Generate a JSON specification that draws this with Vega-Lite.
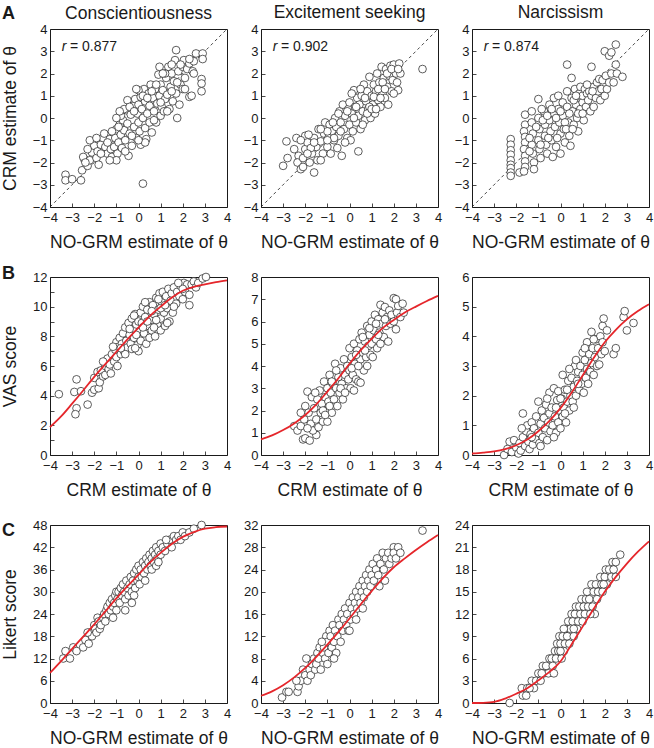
{
"$schema":"https://vega.github.io/schema/vega-lite/v6.json",
"padding":{"left":0,"top":3,"right":0,"bottom":0},
"background":"white",
"columns":3,
"spacing":{"row":70,"column":34},
"bounds":"flush",
"config":{
"font":"Liberation Sans",
"view":{"stroke":"#1a1a1a","strokeWidth":1},
"axis":{"grid":false,"domain":false,"ticks":true,"tickSize":-4,"tickColor":"#1a1a1a","tickWidth":0.8,"labelFont":"Liberation Sans","labelFontSize":13,"labelColor":"#1a1a1a","labelFlush":false,"labelOverlap":false,"titleFont":"Liberation Sans","titleFontSize":17.5,"titleFontWeight":"normal","titleColor":"#1a1a1a"},
"axisX":{"labelPadding":8.5,"titlePadding":9},
"axisY":{"labelPadding":7,"titlePadding":13},
"title":{"font":"Liberation Sans","fontSize":17.5,"fontWeight":"normal","color":"#1a1a1a","frame":"group","baseline":"alphabetic","offset":2}
},
"datasets":{
"a1":[{"x":-3.3,"y":-2.55},{"x":-3.3,"y":-2.8},{"x":-3.0,"y":-2.75},{"x":-2.6,"y":-2.8},{"x":-2.55,"y":-2.35},{"x":-2.45,"y":-1.85},{"x":-2.5,"y":-1.75},{"x":-2.3,"y":-2.15},{"x":-2.2,"y":-1.9},{"x":-2.4,"y":-2.0},{"x":-2.1,"y":-1.55},{"x":-2.0,"y":-1.25},{"x":-2.2,"y":-1.0},{"x":-2.3,"y":-1.4},{"x":-1.9,"y":-1.8},{"x":-1.8,"y":-2.1},{"x":-1.85,"y":-1.5},{"x":-1.7,"y":-1.2},{"x":-1.6,"y":-0.9},{"x":-1.5,"y":-1.3},{"x":-1.4,"y":-1.6},{"x":-1.55,"y":-0.7},{"x":-1.3,"y":-0.95},{"x":-1.25,"y":-1.4},{"x":-1.2,"y":-1.75},{"x":-1.1,"y":-1.3},{"x":-1.0,"y":-0.5},{"x":-1.05,"y":-0.9},{"x":-0.95,"y":-1.6},{"x":-0.9,"y":-1.1},{"x":-0.85,"y":-0.3},{"x":-0.8,"y":-0.75},{"x":-0.75,"y":-1.35},{"x":-0.7,"y":-0.1},{"x":-0.65,"y":-0.55},{"x":-0.6,"y":-1.0},{"x":-0.55,"y":0.35},{"x":-0.5,"y":0.8},{"x":-0.5,"y":-0.25},{"x":-0.45,"y":-1.7},{"x":-0.4,"y":-0.7},{"x":-0.35,"y":0.15},{"x":-0.3,"y":-1.25},{"x":-0.25,"y":0.55},{"x":-0.2,"y":-0.4},{"x":-0.15,"y":0.85},{"x":-0.1,"y":-0.9},{"x":-0.05,"y":0.2},{"x":0.0,"y":-0.2},{"x":0.0,"y":0.6},{"x":0.05,"y":-0.6},{"x":0.1,"y":0.95},{"x":0.1,"y":-1.2},{"x":0.15,"y":0.4},{"x":0.2,"y":-2.95},{"x":0.2,"y":0.0},{"x":0.25,"y":1.3},{"x":0.3,"y":-0.45},{"x":0.3,"y":0.75},{"x":0.35,"y":-0.95},{"x":0.4,"y":0.2},{"x":0.45,"y":1.1},{"x":0.5,"y":-0.2},{"x":0.5,"y":0.55},{"x":0.55,"y":1.5},{"x":0.6,"y":-0.65},{"x":0.65,"y":0.9},{"x":0.7,"y":0.3},{"x":0.75,"y":1.3},{"x":0.8,"y":-0.2},{"x":0.85,"y":0.65},{"x":0.9,"y":1.95},{"x":0.95,"y":1.0},{"x":1.0,"y":0.1},{"x":1.0,"y":1.5},{"x":1.05,"y":0.5},{"x":1.1,"y":1.25},{"x":1.15,"y":0.3},{"x":1.2,"y":0.85},{"x":1.25,"y":1.8},{"x":1.3,"y":1.05},{"x":1.35,"y":2.3},{"x":1.4,"y":0.4},{"x":1.45,"y":1.4},{"x":1.5,"y":2.0},{"x":1.55,"y":0.75},{"x":1.6,"y":1.65},{"x":1.65,"y":2.6},{"x":1.7,"y":3.05},{"x":1.7,"y":1.1},{"x":1.75,"y":0.0},{"x":1.8,"y":2.1},{"x":1.85,"y":0.6},{"x":1.9,"y":1.5},{"x":2.0,"y":2.3},{"x":2.0,"y":1.3},{"x":2.05,"y":2.6},{"x":2.1,"y":1.8},{"x":2.2,"y":2.2},{"x":2.3,"y":2.45},{"x":2.3,"y":0.95},{"x":2.4,"y":1.0},{"x":2.45,"y":2.1},{"x":2.5,"y":2.0},{"x":2.6,"y":2.9},{"x":2.9,"y":2.9},{"x":2.9,"y":2.65},{"x":2.85,"y":1.75},{"x":2.85,"y":1.55},{"x":2.85,"y":1.2},{"x":2.5,"y":2.55},{"x":2.3,"y":2.65},{"x":1.9,"y":2.4},{"x":1.5,"y":2.4},{"x":1.2,"y":2.0},{"x":-1.9,"y":-0.9},{"x":-1.7,"y":-1.6},{"x":-1.4,"y":-1.1},{"x":-1.2,"y":-0.6},{"x":-0.9,"y":-0.4},{"x":-0.8,"y":0.1},{"x":-0.65,"y":0.4},{"x":-0.4,"y":0.5},{"x":-0.2,"y":0.3},{"x":0.0,"y":1.25},{"x":0.2,"y":1.0},{"x":0.4,"y":0.9},{"x":0.6,"y":1.2},{"x":0.8,"y":1.5},{"x":0.3,"y":-1.1},{"x":0.0,"y":-1.0},{"x":-0.3,"y":-0.8},{"x":-0.6,"y":-1.5},{"x":-1.0,"y":-1.9},{"x":-1.3,"y":-1.9},{"x":0.7,"y":-0.1},{"x":1.0,"y":0.7},{"x":1.3,"y":0.3},{"x":1.5,"y":1.2},{"x":1.75,"y":1.6},{"x":2.1,"y":1.3},{"x":-1.0,"y":0.0},{"x":-0.85,"y":0.3},{"x":-0.1,"y":1.3},{"x":0.95,"y":2.3},{"x":1.1,"y":2.0}],
"a2":[{"x":-3.0,"y":-2.15},{"x":-2.8,"y":-1.8},{"x":-2.85,"y":-1.05},{"x":-2.4,"y":-0.9},{"x":-2.3,"y":-1.7},{"x":-2.35,"y":-2.0},{"x":-2.2,"y":-2.3},{"x":-2.1,"y":-1.8},{"x":-2.0,"y":-1.4},{"x":-2.0,"y":-0.8},{"x":-1.9,"y":-1.1},{"x":-1.8,"y":-2.0},{"x":-1.7,"y":-1.6},{"x":-1.6,"y":-2.45},{"x":-1.6,"y":-0.9},{"x":-1.5,"y":-1.3},{"x":-1.45,"y":-1.9},{"x":-1.4,"y":-0.5},{"x":-1.3,"y":-1.05},{"x":-1.2,"y":-1.6},{"x":-1.15,"y":-0.7},{"x":-1.1,"y":-0.2},{"x":-1.0,"y":-1.3},{"x":-0.95,"y":-0.9},{"x":-0.9,"y":-0.3},{"x":-0.85,"y":-1.6},{"x":-0.8,"y":-0.6},{"x":-0.7,"y":-1.0},{"x":-0.65,"y":0.0},{"x":-0.6,"y":-0.4},{"x":-0.55,"y":-1.35},{"x":-0.5,"y":-0.8},{"x":-0.45,"y":0.3},{"x":-0.4,"y":-0.2},{"x":-0.35,"y":-1.7},{"x":-0.3,"y":0.6},{"x":-0.25,"y":-0.5},{"x":-0.2,"y":0.1},{"x":-0.1,"y":-0.9},{"x":-0.05,"y":0.4},{"x":0.0,"y":-0.3},{"x":0.0,"y":0.7},{"x":0.05,"y":-1.0},{"x":0.1,"y":0.2},{"x":0.15,"y":-0.6},{"x":0.2,"y":1.25},{"x":0.25,"y":0.5},{"x":0.3,"y":-0.2},{"x":0.35,"y":0.9},{"x":0.4,"y":-1.5},{"x":0.4,"y":0.1},{"x":0.45,"y":0.6},{"x":0.5,"y":-0.5},{"x":0.55,"y":1.0},{"x":0.6,"y":0.3},{"x":0.65,"y":1.5},{"x":0.7,"y":-0.1},{"x":0.75,"y":0.75},{"x":0.8,"y":1.2},{"x":0.85,"y":0.4},{"x":0.9,"y":1.85},{"x":0.95,"y":0.0},{"x":1.0,"y":1.0},{"x":1.05,"y":0.6},{"x":1.1,"y":1.5},{"x":1.15,"y":0.2},{"x":1.2,"y":1.2},{"x":1.25,"y":2.0},{"x":1.3,"y":0.8},{"x":1.35,"y":1.6},{"x":1.4,"y":0.5},{"x":1.45,"y":2.3},{"x":1.5,"y":1.1},{"x":1.55,"y":1.8},{"x":1.6,"y":0.9},{"x":1.65,"y":2.2},{"x":1.7,"y":1.4},{"x":1.75,"y":0.6},{"x":1.8,"y":1.9},{"x":1.85,"y":2.35},{"x":1.9,"y":1.2},{"x":1.95,"y":1.7},{"x":2.0,"y":2.4},{"x":2.1,"y":2.0},{"x":2.15,"y":1.6},{"x":2.2,"y":1.25},{"x":2.25,"y":2.45},{"x":2.3,"y":2.0},{"x":3.3,"y":2.2},{"x":-2.5,"y":-1.4},{"x":-2.2,"y":-1.0},{"x":-1.85,"y":-0.75},{"x":-1.75,"y":-1.35},{"x":-1.3,"y":-1.9},{"x":-1.0,"y":-0.6},{"x":-0.75,"y":-0.2},{"x":-0.5,"y":0.2},{"x":-0.2,"y":-1.1},{"x":0.1,"y":1.1},{"x":0.3,"y":0.5},{"x":0.5,"y":1.3},{"x":0.7,"y":0.9},{"x":0.9,"y":0.5},{"x":1.1,"y":0.95},{"x":1.3,"y":1.3},{"x":1.5,"y":1.6},{"x":1.7,"y":2.0},{"x":1.9,"y":2.2},{"x":0.2,"y":0.0},{"x":-0.1,"y":0.3},{"x":-0.4,"y":-0.6},{"x":-0.7,"y":-0.9},{"x":-1.0,"y":-1.0},{"x":-1.3,"y":-0.5},{"x":-1.6,"y":-1.1},{"x":-1.9,"y":-1.6},{"x":-2.1,"y":-2.2},{"x":0.6,"y":-0.3},{"x":0.8,"y":0.2},{"x":1.0,"y":0.4},{"x":1.2,"y":0.4},{"x":1.4,"y":0.9},{"x":1.6,"y":1.3},{"x":2.0,"y":1.1},{"x":2.2,"y":2.2}],
"a3":[{"x":-2.25,"y":-0.95},{"x":-2.25,"y":-1.2},{"x":-2.25,"y":-1.45},{"x":-2.25,"y":-1.65},{"x":-2.25,"y":-1.9},{"x":-2.25,"y":-2.1},{"x":-2.25,"y":-2.25},{"x":-2.25,"y":-2.45},{"x":-2.25,"y":-2.6},{"x":-1.85,"y":-2.45},{"x":-1.6,"y":0.15},{"x":-1.6,"y":-0.3},{"x":-1.65,"y":-0.6},{"x":-1.6,"y":-0.85},{"x":-1.6,"y":-1.1},{"x":-1.65,"y":-1.4},{"x":-1.6,"y":-1.7},{"x":-1.6,"y":-1.95},{"x":-1.6,"y":-2.2},{"x":-1.65,"y":-2.4},{"x":-1.3,"y":0.3},{"x":-1.3,"y":-0.2},{"x":-1.25,"y":-0.7},{"x":-1.3,"y":-1.2},{"x":-1.25,"y":-1.6},{"x":-1.2,"y":-2.0},{"x":-1.2,"y":-2.3},{"x":-1.0,"y":0.85},{"x":-1.0,"y":0.0},{"x":-0.95,"y":-0.5},{"x":-1.0,"y":-1.0},{"x":-0.95,"y":-1.4},{"x":-0.9,"y":-1.8},{"x":-0.75,"y":0.3},{"x":-0.7,"y":-0.3},{"x":-0.7,"y":-0.8},{"x":-0.65,"y":-1.2},{"x":-0.6,"y":-1.6},{"x":-0.5,"y":0.6},{"x":-0.5,"y":-0.1},{"x":-0.45,"y":-0.6},{"x":-0.4,"y":-1.0},{"x":-0.35,"y":-1.75},{"x":-0.3,"y":0.9},{"x":-0.3,"y":0.2},{"x":-0.25,"y":-0.4},{"x":-0.2,"y":-1.3},{"x":-0.1,"y":1.0},{"x":-0.1,"y":0.4},{"x":-0.05,"y":-0.2},{"x":0.0,"y":-0.7},{"x":0.0,"y":-1.6},{"x":0.1,"y":0.7},{"x":0.1,"y":0.1},{"x":0.15,"y":-0.5},{"x":0.2,"y":-1.1},{"x":0.3,"y":2.4},{"x":0.3,"y":1.2},{"x":0.3,"y":0.5},{"x":0.35,"y":-0.2},{"x":0.4,"y":-0.8},{"x":0.45,"y":-1.25},{"x":0.5,"y":1.8},{"x":0.5,"y":0.9},{"x":0.55,"y":0.3},{"x":0.6,"y":-0.3},{"x":0.65,"y":1.3},{"x":0.7,"y":0.6},{"x":0.75,"y":0.0},{"x":0.8,"y":-0.6},{"x":0.85,"y":1.1},{"x":0.9,"y":1.4},{"x":0.9,"y":0.4},{"x":1.0,"y":0.7},{"x":1.0,"y":1.0},{"x":1.05,"y":-0.1},{"x":1.1,"y":1.3},{"x":1.15,"y":0.5},{"x":1.2,"y":1.1},{"x":1.25,"y":0.8},{"x":1.3,"y":1.2},{"x":1.35,"y":0.3},{"x":1.4,"y":2.3},{"x":1.4,"y":1.0},{"x":1.5,"y":0.5},{"x":1.5,"y":1.4},{"x":1.6,"y":0.9},{"x":1.65,"y":1.6},{"x":1.7,"y":1.2},{"x":1.75,"y":1.75},{"x":1.8,"y":0.8},{"x":1.85,"y":1.3},{"x":1.9,"y":1.7},{"x":2.0,"y":3.0},{"x":2.0,"y":1.0},{"x":2.05,"y":1.9},{"x":2.1,"y":1.3},{"x":2.2,"y":2.8},{"x":2.2,"y":1.6},{"x":2.3,"y":2.95},{"x":2.3,"y":2.0},{"x":2.4,"y":1.6},{"x":2.5,"y":3.3},{"x":2.5,"y":2.4},{"x":2.55,"y":2.0},{"x":2.8,"y":1.85},{"x":-0.8,"y":-0.1},{"x":-0.6,"y":0.1},{"x":-0.4,"y":0.4},{"x":-0.2,"y":0.0},{"x":0.0,"y":0.3},{"x":0.2,"y":-0.2},{"x":0.4,"y":0.2},{"x":0.6,"y":0.8},{"x":0.8,"y":0.2},{"x":1.0,"y":0.2},{"x":-0.9,"y":-1.2},{"x":-0.55,"y":-0.9},{"x":-0.15,"y":-0.9},{"x":0.25,"y":-0.5},{"x":0.55,"y":-0.5},{"x":0.7,"y":1.0},{"x":1.2,"y":1.5},{"x":1.45,"y":1.2},{"x":-1.4,"y":-0.9},{"x":-1.4,"y":-1.5},{"x":-1.1,"y":-0.4},{"x":-0.85,"y":0.4}],
"b1":[{"x":-3.6,"y":4.1},{"x":-2.9,"y":4.25},{"x":-2.8,"y":5.1},{"x":-2.6,"y":4.3},{"x":-2.8,"y":3.15},{"x":-2.85,"y":2.75},{"x":-2.3,"y":3.4},{"x":-2.1,"y":4.2},{"x":-2.0,"y":4.4},{"x":-1.8,"y":4.5},{"x":-2.0,"y":5.2},{"x":-1.85,"y":5.6},{"x":-1.7,"y":5.7},{"x":-1.75,"y":4.9},{"x":-1.6,"y":5.3},{"x":-1.5,"y":6.0},{"x":-1.5,"y":5.4},{"x":-1.4,"y":6.5},{"x":-1.35,"y":5.8},{"x":-1.3,"y":6.1},{"x":-1.25,"y":5.5},{"x":-1.2,"y":6.8},{"x":-1.1,"y":6.3},{"x":-1.05,"y":7.1},{"x":-1.0,"y":6.6},{"x":-1.0,"y":7.6},{"x":-0.95,"y":6.0},{"x":-0.9,"y":7.3},{"x":-0.85,"y":7.9},{"x":-0.8,"y":6.8},{"x":-0.75,"y":7.5},{"x":-0.7,"y":8.2},{"x":-0.65,"y":7.0},{"x":-0.6,"y":8.6},{"x":-0.55,"y":7.7},{"x":-0.5,"y":7.25},{"x":-0.45,"y":8.9},{"x":-0.4,"y":8.1},{"x":-0.35,"y":7.5},{"x":-0.3,"y":9.2},{"x":-0.3,"y":7.15},{"x":-0.25,"y":8.5},{"x":-0.2,"y":7.9},{"x":-0.15,"y":9.5},{"x":-0.1,"y":8.8},{"x":-0.05,"y":7.4},{"x":0.0,"y":9.0},{"x":0.0,"y":7.0},{"x":0.05,"y":8.3},{"x":0.1,"y":9.6},{"x":0.1,"y":7.7},{"x":0.15,"y":8.9},{"x":0.2,"y":10.0},{"x":0.25,"y":8.2},{"x":0.3,"y":9.3},{"x":0.35,"y":7.5},{"x":0.4,"y":9.8},{"x":0.45,"y":8.7},{"x":0.5,"y":10.3},{"x":0.5,"y":7.9},{"x":0.55,"y":9.1},{"x":0.6,"y":8.4},{"x":0.65,"y":10.1},{"x":0.7,"y":9.5},{"x":0.75,"y":8.0},{"x":0.8,"y":10.6},{"x":0.85,"y":8.8},{"x":0.9,"y":9.8},{"x":0.95,"y":10.9},{"x":1.0,"y":9.2},{"x":1.0,"y":8.4},{"x":1.05,"y":10.3},{"x":1.1,"y":11.0},{"x":1.15,"y":9.6},{"x":1.2,"y":8.7},{"x":1.25,"y":10.7},{"x":1.3,"y":9.9},{"x":1.35,"y":11.2},{"x":1.4,"y":9.0},{"x":1.45,"y":10.4},{"x":1.5,"y":10.9},{"x":1.55,"y":9.6},{"x":1.6,"y":11.3},{"x":1.7,"y":10.2},{"x":1.75,"y":11.0},{"x":1.85,"y":10.7},{"x":1.9,"y":11.4},{"x":2.0,"y":10.5},{"x":2.05,"y":11.6},{"x":2.1,"y":11.0},{"x":2.2,"y":11.5},{"x":2.3,"y":10.1},{"x":2.3,"y":10.8},{"x":2.4,"y":11.5},{"x":2.5,"y":11.7},{"x":2.6,"y":11.3},{"x":2.7,"y":11.6},{"x":2.9,"y":11.9},{"x":3.05,"y":12.0},{"x":1.3,"y":8.9},{"x":0.2,"y":8.6},{"x":-0.6,"y":6.8},{"x":-0.1,"y":8.1},{"x":0.6,"y":9.7},{"x":1.6,"y":10.0},{"x":1.0,"y":9.9},{"x":0.4,"y":9.0},{"x":-0.8,"y":7.2},{"x":-0.4,"y":8.5},{"x":0.8,"y":9.1},{"x":1.2,"y":10.1},{"x":0.3,"y":10.3},{"x":-0.2,"y":9.4},{"x":0.9,"y":10.5},{"x":2.0,"y":11.2},{"x":1.8,"y":11.6},{"x":-1.6,"y":6.3},{"x":-1.15,"y":7.3},{"x":-0.15,"y":7.2},{"x":0.7,"y":8.6}],
"b1c":[{"x":-4,"y":1.88},{"x":-3.5,"y":2.6},{"x":-3,"y":3.46},{"x":-2.5,"y":4.35},{"x":-2,"y":5.27},{"x":-1.5,"y":6.12},{"x":-1,"y":6.96},{"x":-0.5,"y":7.8},{"x":0,"y":8.59},{"x":0.5,"y":9.35},{"x":1,"y":10.0},{"x":1.5,"y":10.6},{"x":2,"y":11.07},{"x":2.5,"y":11.33},{"x":3,"y":11.5},{"x":3.5,"y":11.65},{"x":4,"y":11.77}],
"b2":[{"x":-2.5,"y":1.3},{"x":-2.35,"y":1.1},{"x":-2.2,"y":1.3},{"x":-2.1,"y":0.7},{"x":-2.0,"y":0.75},{"x":-1.8,"y":0.65},{"x":-1.5,"y":0.9},{"x":-2.05,"y":1.6},{"x":-2.0,"y":2.2},{"x":-1.9,"y":2.85},{"x":-1.85,"y":1.9},{"x":-1.75,"y":1.4},{"x":-1.7,"y":2.6},{"x":-1.65,"y":1.1},{"x":-1.6,"y":2.1},{"x":-1.5,"y":1.6},{"x":-1.45,"y":2.5},{"x":-1.4,"y":1.25},{"x":-1.35,"y":2.9},{"x":-1.3,"y":1.9},{"x":-1.25,"y":2.3},{"x":-1.2,"y":1.5},{"x":-1.15,"y":3.3},{"x":-1.1,"y":2.6},{"x":-1.05,"y":2.0},{"x":-1.0,"y":1.5},{"x":-1.0,"y":3.0},{"x":-0.95,"y":2.4},{"x":-0.9,"y":3.6},{"x":-0.85,"y":2.8},{"x":-0.8,"y":1.9},{"x":-0.75,"y":3.2},{"x":-0.7,"y":2.5},{"x":-0.65,"y":4.1},{"x":-0.6,"y":3.0},{"x":-0.55,"y":2.2},{"x":-0.5,"y":3.5},{"x":-0.45,"y":2.8},{"x":-0.4,"y":3.9},{"x":-0.35,"y":3.2},{"x":-0.3,"y":2.5},{"x":-0.25,"y":4.3},{"x":-0.2,"y":3.6},{"x":-0.15,"y":3.0},{"x":-0.1,"y":4.0},{"x":-0.05,"y":3.4},{"x":0.0,"y":4.8},{"x":0.0,"y":3.8},{"x":0.05,"y":3.0},{"x":0.1,"y":4.4},{"x":0.15,"y":3.6},{"x":0.2,"y":2.9},{"x":0.2,"y":5.0},{"x":0.25,"y":4.1},{"x":0.3,"y":3.4},{"x":0.35,"y":4.7},{"x":0.4,"y":3.3},{"x":0.45,"y":5.2},{"x":0.5,"y":4.3},{"x":0.5,"y":3.25},{"x":0.55,"y":5.5},{"x":0.6,"y":4.6},{"x":0.65,"y":3.8},{"x":0.7,"y":5.1},{"x":0.75,"y":4.4},{"x":0.8,"y":4.0},{"x":0.8,"y":5.8},{"x":0.85,"y":4.9},{"x":0.9,"y":5.4},{"x":0.95,"y":4.5},{"x":1.0,"y":6.0},{"x":1.0,"y":5.0},{"x":1.05,"y":4.4},{"x":1.1,"y":5.6},{"x":1.15,"y":6.3},{"x":1.2,"y":5.2},{"x":1.25,"y":4.8},{"x":1.3,"y":6.1},{"x":1.35,"y":5.5},{"x":1.4,"y":6.75},{"x":1.4,"y":5.0},{"x":1.45,"y":5.9},{"x":1.5,"y":6.4},{"x":1.55,"y":5.3},{"x":1.6,"y":6.65},{"x":1.65,"y":5.8},{"x":1.7,"y":6.2},{"x":1.75,"y":5.1},{"x":1.8,"y":6.5},{"x":1.85,"y":5.9},{"x":1.9,"y":6.3},{"x":2.0,"y":7.05},{"x":2.0,"y":6.0},{"x":2.1,"y":7.0},{"x":2.1,"y":5.65},{"x":2.15,"y":6.4},{"x":2.2,"y":6.7},{"x":2.3,"y":6.2},{"x":2.4,"y":6.8},{"x":2.45,"y":6.4},{"x":-1.55,"y":2.8},{"x":-1.2,"y":2.0},{"x":-0.8,"y":3.3},{"x":-0.4,"y":3.0},{"x":0.1,"y":3.9},{"x":0.3,"y":4.5},{"x":0.6,"y":5.3},{"x":0.9,"y":5.7},{"x":1.2,"y":5.9},{"x":-0.9,"y":2.2},{"x":-0.2,"y":2.8},{"x":0.4,"y":4.0},{"x":0.7,"y":4.7},{"x":1.3,"y":5.4},{"x":1.6,"y":6.1},{"x":-1.9,"y":1.2},{"x":-2.2,"y":1.9},{"x":-1.1,"y":1.8},{"x":-0.6,"y":3.8}],
"b2c":[{"x":-4,"y":0.7},{"x":-3.5,"y":0.88},{"x":-3,"y":1.12},{"x":-2.5,"y":1.42},{"x":-2,"y":1.8},{"x":-1.5,"y":2.28},{"x":-1,"y":2.85},{"x":-0.5,"y":3.45},{"x":0,"y":4.1},{"x":0.5,"y":4.7},{"x":1,"y":5.22},{"x":1.5,"y":5.7},{"x":2,"y":6.07},{"x":2.5,"y":6.4},{"x":3,"y":6.67},{"x":3.5,"y":6.92},{"x":4,"y":7.15}],
"b3":[{"x":-2.55,"y":0.0},{"x":-2.4,"y":0.2},{"x":-2.3,"y":0.45},{"x":-2.2,"y":0.1},{"x":-2.1,"y":0.5},{"x":-2.0,"y":0.25},{"x":-1.9,"y":0.05},{"x":-1.85,"y":0.4},{"x":-1.8,"y":0.15},{"x":-1.7,"y":1.4},{"x":-1.7,"y":0.6},{"x":-1.6,"y":0.3},{"x":-1.55,"y":0.8},{"x":-1.5,"y":1.0},{"x":-1.45,"y":0.45},{"x":-1.4,"y":0.2},{"x":-1.35,"y":0.7},{"x":-1.3,"y":1.1},{"x":-1.25,"y":0.35},{"x":-1.2,"y":0.9},{"x":-1.15,"y":0.55},{"x":-1.1,"y":1.3},{"x":-1.0,"y":1.8},{"x":-1.0,"y":0.75},{"x":-0.95,"y":0.4},{"x":-0.9,"y":1.05},{"x":-0.85,"y":1.5},{"x":-0.8,"y":0.6},{"x":-0.75,"y":1.25},{"x":-0.7,"y":0.9},{"x":-0.65,"y":1.7},{"x":-0.6,"y":0.5},{"x":-0.55,"y":1.1},{"x":-0.5,"y":2.1},{"x":-0.5,"y":1.4},{"x":-0.45,"y":0.8},{"x":-0.4,"y":1.6},{"x":-0.35,"y":1.0},{"x":-0.3,"y":2.25},{"x":-0.25,"y":1.3},{"x":-0.2,"y":0.75},{"x":-0.15,"y":1.85},{"x":-0.1,"y":2.15},{"x":-0.1,"y":1.1},{"x":-0.05,"y":1.5},{"x":0.0,"y":0.9},{"x":0.05,"y":1.9},{"x":0.1,"y":2.7},{"x":0.1,"y":1.3},{"x":0.15,"y":1.6},{"x":0.2,"y":2.2},{"x":0.25,"y":1.1},{"x":0.3,"y":1.8},{"x":0.35,"y":2.5},{"x":0.4,"y":1.5},{"x":0.45,"y":2.0},{"x":0.5,"y":2.6},{"x":0.55,"y":1.8},{"x":0.6,"y":2.3},{"x":0.65,"y":3.0},{"x":0.7,"y":3.2},{"x":0.7,"y":2.0},{"x":0.75,"y":2.5},{"x":0.8,"y":2.8},{"x":0.85,"y":2.2},{"x":0.9,"y":3.0},{"x":0.95,"y":2.4},{"x":1.0,"y":3.45},{"x":1.0,"y":2.7},{"x":1.05,"y":2.1},{"x":1.1,"y":3.2},{"x":1.15,"y":2.6},{"x":1.2,"y":3.8},{"x":1.2,"y":2.9},{"x":1.25,"y":2.4},{"x":1.3,"y":3.4},{"x":1.35,"y":2.8},{"x":1.4,"y":4.15},{"x":1.4,"y":3.1},{"x":1.45,"y":3.6},{"x":1.5,"y":2.7},{"x":1.55,"y":3.3},{"x":1.6,"y":3.9},{"x":1.65,"y":3.0},{"x":1.7,"y":3.6},{"x":1.75,"y":3.05},{"x":1.8,"y":4.0},{"x":1.85,"y":3.4},{"x":1.9,"y":4.35},{"x":1.95,"y":4.6},{"x":1.9,"y":3.8},{"x":2.0,"y":3.5},{"x":2.1,"y":4.2},{"x":2.4,"y":3.4},{"x":2.5,"y":3.6},{"x":2.85,"y":4.65},{"x":2.9,"y":4.85},{"x":3.0,"y":4.2},{"x":3.3,"y":4.45},{"x":-1.75,"y":0.9},{"x":-1.3,"y":0.6},{"x":-0.9,"y":0.3},{"x":-0.6,"y":1.9},{"x":-0.2,"y":1.6},{"x":0.2,"y":1.4},{"x":0.6,"y":1.6},{"x":0.4,"y":2.9},{"x":0.8,"y":2.4},{"x":1.1,"y":3.6},{"x":1.5,"y":3.9},{"x":-0.3,"y":0.6},{"x":0.0,"y":1.9},{"x":0.3,"y":2.2}],
"b3c":[{"x":-4,"y":0.05},{"x":-3.5,"y":0.08},{"x":-3,"y":0.12},{"x":-2.5,"y":0.2},{"x":-2,"y":0.33},{"x":-1.5,"y":0.52},{"x":-1,"y":0.8},{"x":-0.5,"y":1.15},{"x":0,"y":1.58},{"x":0.5,"y":2.1},{"x":1,"y":2.68},{"x":1.5,"y":3.27},{"x":2,"y":3.8},{"x":2.5,"y":4.22},{"x":3,"y":4.57},{"x":3.5,"y":4.85},{"x":4,"y":5.08}],
"c1":[{"x":-3.4,"y":12},{"x":-3.3,"y":14},{"x":-3.1,"y":12},{"x":-2.95,"y":15},{"x":-2.8,"y":14},{"x":-2.5,"y":15},{"x":-2.4,"y":17},{"x":-2.25,"y":16},{"x":-2.2,"y":19},{"x":-2.1,"y":18},{"x":-2.0,"y":21},{"x":-1.95,"y":20},{"x":-1.9,"y":19},{"x":-1.85,"y":23},{"x":-1.8,"y":22},{"x":-1.75,"y":20},{"x":-1.7,"y":21},{"x":-1.6,"y":23},{"x":-1.55,"y":24},{"x":-1.5,"y":22},{"x":-1.45,"y":25},{"x":-1.4,"y":26},{"x":-1.35,"y":24},{"x":-1.3,"y":27},{"x":-1.25,"y":25},{"x":-1.2,"y":28},{"x":-1.15,"y":26},{"x":-1.1,"y":27},{"x":-1.05,"y":29},{"x":-1.0,"y":30},{"x":-1.0,"y":25},{"x":-0.95,"y":28},{"x":-0.9,"y":30},{"x":-0.85,"y":27},{"x":-0.8,"y":31},{"x":-0.75,"y":29},{"x":-0.7,"y":32},{"x":-0.65,"y":30},{"x":-0.6,"y":28},{"x":-0.55,"y":33},{"x":-0.5,"y":31},{"x":-0.45,"y":29},{"x":-0.4,"y":32},{"x":-0.35,"y":34},{"x":-0.3,"y":30},{"x":-0.25,"y":33},{"x":-0.2,"y":35},{"x":-0.15,"y":31},{"x":-0.1,"y":36},{"x":-0.05,"y":33},{"x":0.0,"y":37},{"x":0.0,"y":34},{"x":0.05,"y":32},{"x":0.1,"y":36},{"x":0.15,"y":34},{"x":0.2,"y":38},{"x":0.25,"y":35},{"x":0.3,"y":37},{"x":0.35,"y":39},{"x":0.4,"y":36},{"x":0.45,"y":38},{"x":0.5,"y":40},{"x":0.55,"y":37},{"x":0.6,"y":39},{"x":0.65,"y":41},{"x":0.7,"y":38},{"x":0.75,"y":40},{"x":0.8,"y":42},{"x":0.85,"y":39},{"x":0.9,"y":41},{"x":1.0,"y":43},{"x":1.0,"y":40},{"x":1.1,"y":42},{"x":1.2,"y":41},{"x":1.3,"y":43},{"x":1.4,"y":44},{"x":1.5,"y":42},{"x":1.6,"y":45},{"x":1.7,"y":44},{"x":1.8,"y":45},{"x":1.9,"y":44},{"x":2.0,"y":46},{"x":2.1,"y":45},{"x":2.3,"y":46},{"x":2.5,"y":47},{"x":2.85,"y":48},{"x":-1.15,"y":23},{"x":-0.6,"y":25},{"x":-0.3,"y":27},{"x":0.6,"y":36},{"x":0.8,"y":37},{"x":-2.3,"y":19},{"x":1.25,"y":44},{"x":0.3,"y":33},{"x":-0.2,"y":29},{"x":0.9,"y":38}],
"c1c":[{"x":-4,"y":8.1},{"x":-3.5,"y":11.3},{"x":-3,"y":14.6},{"x":-2.5,"y":17.9},{"x":-2,"y":21.2},{"x":-1.5,"y":24.7},{"x":-1,"y":28.2},{"x":-0.5,"y":31.5},{"x":0,"y":34.6},{"x":0.5,"y":37.8},{"x":1,"y":40.5},{"x":1.5,"y":42.9},{"x":2,"y":44.8},{"x":2.5,"y":46.1},{"x":3,"y":47.0},{"x":3.5,"y":47.4},{"x":4,"y":47.6}],
"c2":[{"x":-3.05,"y":1},{"x":-2.85,"y":2},{"x":-2.75,"y":2},{"x":-2.35,"y":2},{"x":-2.3,"y":3},{"x":-2.2,"y":4},{"x":-2.1,"y":6},{"x":-2.0,"y":5},{"x":-1.95,"y":8},{"x":-1.9,"y":4},{"x":-1.8,"y":6},{"x":-1.75,"y":5},{"x":-1.7,"y":7},{"x":-1.6,"y":8},{"x":-1.55,"y":6},{"x":-1.5,"y":7},{"x":-1.45,"y":9},{"x":-1.4,"y":8},{"x":-1.35,"y":10},{"x":-1.3,"y":6},{"x":-1.2,"y":9},{"x":-1.15,"y":10},{"x":-1.1,"y":8},{"x":-1.05,"y":12},{"x":-1.0,"y":11},{"x":-0.95,"y":9},{"x":-0.9,"y":13},{"x":-0.85,"y":12},{"x":-0.8,"y":10},{"x":-0.75,"y":14},{"x":-0.7,"y":11},{"x":-0.65,"y":13},{"x":-0.6,"y":9},{"x":-0.55,"y":12},{"x":-0.5,"y":15},{"x":-0.45,"y":14},{"x":-0.4,"y":11},{"x":-0.35,"y":16},{"x":-0.3,"y":13},{"x":-0.25,"y":15},{"x":-0.2,"y":17},{"x":-0.15,"y":14},{"x":-0.1,"y":16},{"x":-0.05,"y":13},{"x":0.0,"y":18},{"x":0.05,"y":15},{"x":0.1,"y":17},{"x":0.15,"y":19},{"x":0.2,"y":16},{"x":0.25,"y":18},{"x":0.3,"y":20},{"x":0.35,"y":17},{"x":0.4,"y":19},{"x":0.45,"y":21},{"x":0.5,"y":18},{"x":0.55,"y":20},{"x":0.6,"y":22},{"x":0.65,"y":19},{"x":0.7,"y":21},{"x":0.75,"y":23},{"x":0.8,"y":20},{"x":0.85,"y":22},{"x":0.9,"y":24},{"x":0.95,"y":21},{"x":1.0,"y":23},{"x":1.05,"y":25},{"x":1.1,"y":22},{"x":1.2,"y":24},{"x":1.25,"y":26},{"x":1.3,"y":23},{"x":1.4,"y":25},{"x":1.5,"y":27},{"x":1.55,"y":24},{"x":1.6,"y":22},{"x":1.65,"y":26},{"x":1.75,"y":27},{"x":1.8,"y":25},{"x":1.9,"y":26},{"x":2.0,"y":28},{"x":2.0,"y":27},{"x":2.1,"y":26},{"x":2.2,"y":28},{"x":2.3,"y":27},{"x":3.3,"y":31},{"x":-1.25,"y":11},{"x":-0.7,"y":8},{"x":0.0,"y":13},{"x":0.6,"y":17},{"x":1.35,"y":21},{"x":-2.4,"y":4},{"x":-1.0,"y":7},{"x":0.3,"y":15}],
"c2c":[{"x":-4,"y":1.3},{"x":-3.5,"y":2.1},{"x":-3,"y":3.2},{"x":-2.5,"y":4.6},{"x":-2,"y":6.3},{"x":-1.5,"y":8.3},{"x":-1,"y":10.5},{"x":-0.5,"y":12.8},{"x":0,"y":15.2},{"x":0.5,"y":17.7},{"x":1,"y":20.1},{"x":1.5,"y":22.4},{"x":2,"y":24.4},{"x":2.5,"y":26.0},{"x":3,"y":27.5},{"x":3.5,"y":28.9},{"x":4,"y":30.2}],
"c3":[{"x":-2.3,"y":0},{"x":-1.75,"y":2},{"x":-1.7,"y":1},{"x":-1.55,"y":1},{"x":-1.5,"y":2},{"x":-1.3,"y":3},{"x":-1.2,"y":2},{"x":-1.1,"y":3},{"x":-1.0,"y":4},{"x":-0.9,"y":3},{"x":-0.8,"y":5},{"x":-0.75,"y":4},{"x":-0.65,"y":5},{"x":-0.55,"y":4},{"x":-0.5,"y":6},{"x":-0.4,"y":6},{"x":-0.35,"y":5},{"x":-0.25,"y":7},{"x":-0.2,"y":6},{"x":-0.15,"y":8},{"x":-0.1,"y":7},{"x":-0.05,"y":9},{"x":0.0,"y":8},{"x":0.05,"y":6},{"x":0.1,"y":9},{"x":0.15,"y":7},{"x":0.2,"y":8},{"x":0.25,"y":10},{"x":0.3,"y":9},{"x":0.35,"y":11},{"x":0.4,"y":8},{"x":0.45,"y":10},{"x":0.5,"y":12},{"x":0.55,"y":11},{"x":0.6,"y":9},{"x":0.65,"y":12},{"x":0.7,"y":13},{"x":0.75,"y":10},{"x":0.8,"y":11},{"x":0.85,"y":13},{"x":0.9,"y":12},{"x":0.95,"y":14},{"x":1.0,"y":11},{"x":1.05,"y":13},{"x":1.1,"y":12},{"x":1.15,"y":14},{"x":1.2,"y":15},{"x":1.25,"y":13},{"x":1.3,"y":14},{"x":1.4,"y":16},{"x":1.45,"y":13},{"x":1.5,"y":15},{"x":1.55,"y":12},{"x":1.6,"y":16},{"x":1.65,"y":14},{"x":1.7,"y":15},{"x":1.8,"y":17},{"x":1.85,"y":16},{"x":1.9,"y":15},{"x":2.0,"y":17},{"x":2.05,"y":18},{"x":2.1,"y":16},{"x":2.2,"y":18},{"x":2.3,"y":17},{"x":2.35,"y":19},{"x":2.4,"y":18},{"x":2.5,"y":17},{"x":2.5,"y":19},{"x":2.7,"y":20},{"x":-0.85,"y":4},{"x":0.0,"y":7},{"x":0.6,"y":10},{"x":1.35,"y":12},{"x":-1.4,"y":2},{"x":1.95,"y":16},{"x":0.15,"y":10},{"x":-0.3,"y":4}],
"c3c":[{"x":-4,"y":0.0},{"x":-3.5,"y":0.03},{"x":-3,"y":0.15},{"x":-2.5,"y":0.6},{"x":-2,"y":1.25},{"x":-1.5,"y":2.0},{"x":-1,"y":3.05},{"x":-0.5,"y":4.2},{"x":0,"y":5.6},{"x":0.5,"y":7.9},{"x":1,"y":10.3},{"x":1.5,"y":12.7},{"x":2,"y":15.0},{"x":2.5,"y":17.0},{"x":3,"y":18.8},{"x":3.5,"y":20.4},{"x":4,"y":21.8}]
},
"concat":[
{"width":177,"height":178,"title":{"text":"Conscientiousness","offset":-17},"layer":[
{"data":{"values":[{}]},"mark":{"type":"rule","strokeDash":[3,3],"color":"#1a1a1a","strokeWidth":0.8},"encoding":{"x":{"datum":-4,"type":"quantitative","scale":{"domain":[-4,4],"nice":false,"zero":false},"axis":{"values":[-4,-3,-2,-1,0,1,2,3,4],"title":"NO-GRM estimate of θ"}},"y":{"datum":-4,"type":"quantitative","scale":{"domain":[-4,4],"nice":false,"zero":false},"axis":{"values":[-4,-3,-2,-1,0,1,2,3,4],"title":"CRM estimate of θ"}},"x2":{"datum":4},"y2":{"datum":4}}},
{"data":{"name":"a1"},"mark":{"type":"point","shape":"circle","filled":true,"fill":"white","stroke":"#1a1a1a","strokeWidth":0.7,"size":60,"opacity":1},"encoding":{"x":{"field":"x","type":"quantitative","scale":{"domain":[-4,4],"nice":false,"zero":false},"axis":{"values":[-4,-3,-2,-1,0,1,2,3,4],"title":"NO-GRM estimate of θ"}},"y":{"field":"y","type":"quantitative","scale":{"domain":[-4,4],"nice":false,"zero":false},"axis":{"values":[-4,-3,-2,-1,0,1,2,3,4],"title":"CRM estimate of θ"}}}},
{"data":{"values":[{}]},"mark":{"type":"text","font":"Liberation Sans","fontStyle":"italic","fontSize":14,"align":"left","baseline":"alphabetic","color":"#1a1a1a"},"encoding":{"x":{"datum":-3.47,"type":"quantitative","scale":{"domain":[-4,4],"nice":false,"zero":false},"axis":{"values":[-4,-3,-2,-1,0,1,2,3,4],"title":"NO-GRM estimate of θ"}},"y":{"datum":3.0,"type":"quantitative","scale":{"domain":[-4,4],"nice":false,"zero":false},"axis":{"values":[-4,-3,-2,-1,0,1,2,3,4],"title":"CRM estimate of θ"}},"text":{"value":"r"}}},
{"data":{"values":[{}]},"mark":{"type":"text","font":"Liberation Sans","fontSize":14,"align":"left","baseline":"alphabetic","color":"#1a1a1a"},"encoding":{"x":{"datum":-3.1,"type":"quantitative","scale":{"domain":[-4,4],"nice":false,"zero":false},"axis":{"values":[-4,-3,-2,-1,0,1,2,3,4],"title":"NO-GRM estimate of θ"}},"y":{"datum":3.0,"type":"quantitative","scale":{"domain":[-4,4],"nice":false,"zero":false},"axis":{"values":[-4,-3,-2,-1,0,1,2,3,4],"title":"CRM estimate of θ"}},"text":{"value":"= 0.877"}}},
{"data":{"values":[{}]},"mark":{"type":"text","font":"Liberation Sans","fontWeight":"bold","fontSize":18,"align":"center","baseline":"middle","color":"#1a1a1a"},"encoding":{"x":{"datum":-5.88,"type":"quantitative","scale":{"domain":[-4,4],"nice":false,"zero":false},"axis":{"values":[-4,-3,-2,-1,0,1,2,3,4],"title":"NO-GRM estimate of θ"}},"y":{"datum":4.67,"type":"quantitative","scale":{"domain":[-4,4],"nice":false,"zero":false},"axis":{"values":[-4,-3,-2,-1,0,1,2,3,4],"title":"CRM estimate of θ"}},"text":{"value":"A"}}}
]},
{"width":177,"height":178,"title":{"text":"Excitement seeking"},"layer":[
{"data":{"values":[{}]},"mark":{"type":"rule","strokeDash":[3,3],"color":"#1a1a1a","strokeWidth":0.8},"encoding":{"x":{"datum":-4,"type":"quantitative","scale":{"domain":[-4,4],"nice":false,"zero":false},"axis":{"values":[-4,-3,-2,-1,0,1,2,3,4],"title":"NO-GRM estimate of θ"}},"y":{"datum":-4,"type":"quantitative","scale":{"domain":[-4,4],"nice":false,"zero":false},"axis":{"values":[-4,-3,-2,-1,0,1,2,3,4],"title":null}},"x2":{"datum":4},"y2":{"datum":4}}},
{"data":{"name":"a2"},"mark":{"type":"point","shape":"circle","filled":true,"fill":"white","stroke":"#1a1a1a","strokeWidth":0.7,"size":60,"opacity":1},"encoding":{"x":{"field":"x","type":"quantitative","scale":{"domain":[-4,4],"nice":false,"zero":false},"axis":{"values":[-4,-3,-2,-1,0,1,2,3,4],"title":"NO-GRM estimate of θ"}},"y":{"field":"y","type":"quantitative","scale":{"domain":[-4,4],"nice":false,"zero":false},"axis":{"values":[-4,-3,-2,-1,0,1,2,3,4],"title":null}}}},
{"data":{"values":[{}]},"mark":{"type":"text","font":"Liberation Sans","fontStyle":"italic","fontSize":14,"align":"left","baseline":"alphabetic","color":"#1a1a1a"},"encoding":{"x":{"datum":-3.47,"type":"quantitative","scale":{"domain":[-4,4],"nice":false,"zero":false},"axis":{"values":[-4,-3,-2,-1,0,1,2,3,4],"title":"NO-GRM estimate of θ"}},"y":{"datum":3.0,"type":"quantitative","scale":{"domain":[-4,4],"nice":false,"zero":false},"axis":{"values":[-4,-3,-2,-1,0,1,2,3,4],"title":null}},"text":{"value":"r"}}},
{"data":{"values":[{}]},"mark":{"type":"text","font":"Liberation Sans","fontSize":14,"align":"left","baseline":"alphabetic","color":"#1a1a1a"},"encoding":{"x":{"datum":-3.1,"type":"quantitative","scale":{"domain":[-4,4],"nice":false,"zero":false},"axis":{"values":[-4,-3,-2,-1,0,1,2,3,4],"title":"NO-GRM estimate of θ"}},"y":{"datum":3.0,"type":"quantitative","scale":{"domain":[-4,4],"nice":false,"zero":false},"axis":{"values":[-4,-3,-2,-1,0,1,2,3,4],"title":null}},"text":{"value":"= 0.902"}}}
]},
{"width":177,"height":178,"title":{"text":"Narcissism"},"layer":[
{"data":{"values":[{}]},"mark":{"type":"rule","strokeDash":[3,3],"color":"#1a1a1a","strokeWidth":0.8},"encoding":{"x":{"datum":-4,"type":"quantitative","scale":{"domain":[-4,4],"nice":false,"zero":false},"axis":{"values":[-4,-3,-2,-1,0,1,2,3,4],"title":"NO-GRM estimate of θ"}},"y":{"datum":-4,"type":"quantitative","scale":{"domain":[-4,4],"nice":false,"zero":false},"axis":{"values":[-4,-3,-2,-1,0,1,2,3,4],"title":null}},"x2":{"datum":4},"y2":{"datum":4}}},
{"data":{"name":"a3"},"mark":{"type":"point","shape":"circle","filled":true,"fill":"white","stroke":"#1a1a1a","strokeWidth":0.7,"size":60,"opacity":1},"encoding":{"x":{"field":"x","type":"quantitative","scale":{"domain":[-4,4],"nice":false,"zero":false},"axis":{"values":[-4,-3,-2,-1,0,1,2,3,4],"title":"NO-GRM estimate of θ"}},"y":{"field":"y","type":"quantitative","scale":{"domain":[-4,4],"nice":false,"zero":false},"axis":{"values":[-4,-3,-2,-1,0,1,2,3,4],"title":null}}}},
{"data":{"values":[{}]},"mark":{"type":"text","font":"Liberation Sans","fontStyle":"italic","fontSize":14,"align":"left","baseline":"alphabetic","color":"#1a1a1a"},"encoding":{"x":{"datum":-3.47,"type":"quantitative","scale":{"domain":[-4,4],"nice":false,"zero":false},"axis":{"values":[-4,-3,-2,-1,0,1,2,3,4],"title":"NO-GRM estimate of θ"}},"y":{"datum":3.0,"type":"quantitative","scale":{"domain":[-4,4],"nice":false,"zero":false},"axis":{"values":[-4,-3,-2,-1,0,1,2,3,4],"title":null}},"text":{"value":"r"}}},
{"data":{"values":[{}]},"mark":{"type":"text","font":"Liberation Sans","fontSize":14,"align":"left","baseline":"alphabetic","color":"#1a1a1a"},"encoding":{"x":{"datum":-3.1,"type":"quantitative","scale":{"domain":[-4,4],"nice":false,"zero":false},"axis":{"values":[-4,-3,-2,-1,0,1,2,3,4],"title":"NO-GRM estimate of θ"}},"y":{"datum":3.0,"type":"quantitative","scale":{"domain":[-4,4],"nice":false,"zero":false},"axis":{"values":[-4,-3,-2,-1,0,1,2,3,4],"title":null}},"text":{"value":"= 0.874"}}}
]},
{"width":177,"height":178,"layer":[
{"data":{"name":"b1"},"mark":{"type":"point","shape":"circle","filled":true,"fill":"white","stroke":"#1a1a1a","strokeWidth":0.7,"size":60,"opacity":1},"encoding":{"x":{"field":"x","type":"quantitative","scale":{"domain":[-4,4],"nice":false,"zero":false},"axis":{"values":[-4,-3,-2,-1,0,1,2,3,4],"title":"CRM estimate of θ"}},"y":{"field":"y","type":"quantitative","scale":{"domain":[0,12],"nice":false,"zero":false},"axis":{"values":[0,1,2,3,4,5,6,7,8,9,10,11,12],"labelExpr":"datum.value % 2 == 0 ? datum.label : ''","title":"VAS score"}}}},
{"data":{"name":"b1c"},"mark":{"type":"line","color":"#e5262b","strokeWidth":1.8,"interpolate":"monotone"},"encoding":{"x":{"field":"x","type":"quantitative","scale":{"domain":[-4,4],"nice":false,"zero":false},"axis":{"values":[-4,-3,-2,-1,0,1,2,3,4],"title":"CRM estimate of θ"}},"y":{"field":"y","type":"quantitative","scale":{"domain":[0,12],"nice":false,"zero":false},"axis":{"values":[0,1,2,3,4,5,6,7,8,9,10,11,12],"labelExpr":"datum.value % 2 == 0 ? datum.label : ''","title":"VAS score"}}}},
{"data":{"values":[{}]},"mark":{"type":"text","font":"Liberation Sans","fontWeight":"bold","fontSize":18,"align":"center","baseline":"middle","color":"#1a1a1a"},"encoding":{"x":{"datum":-5.88,"type":"quantitative","scale":{"domain":[-4,4],"nice":false,"zero":false},"axis":{"values":[-4,-3,-2,-1,0,1,2,3,4],"title":"CRM estimate of θ"}},"y":{"datum":12.2,"type":"quantitative","scale":{"domain":[0,12],"nice":false,"zero":false},"axis":{"values":[0,1,2,3,4,5,6,7,8,9,10,11,12],"labelExpr":"datum.value % 2 == 0 ? datum.label : ''","title":"VAS score"}},"text":{"value":"B"}}}
]},
{"width":177,"height":178,"layer":[
{"data":{"name":"b2"},"mark":{"type":"point","shape":"circle","filled":true,"fill":"white","stroke":"#1a1a1a","strokeWidth":0.7,"size":60,"opacity":1},"encoding":{"x":{"field":"x","type":"quantitative","scale":{"domain":[-4,4],"nice":false,"zero":false},"axis":{"values":[-4,-3,-2,-1,0,1,2,3,4],"title":"CRM estimate of θ"}},"y":{"field":"y","type":"quantitative","scale":{"domain":[0,8],"nice":false,"zero":false},"axis":{"values":[0,1,2,3,4,5,6,7,8],"title":null}}}},
{"data":{"name":"b2c"},"mark":{"type":"line","color":"#e5262b","strokeWidth":1.8,"interpolate":"monotone"},"encoding":{"x":{"field":"x","type":"quantitative","scale":{"domain":[-4,4],"nice":false,"zero":false},"axis":{"values":[-4,-3,-2,-1,0,1,2,3,4],"title":"CRM estimate of θ"}},"y":{"field":"y","type":"quantitative","scale":{"domain":[0,8],"nice":false,"zero":false},"axis":{"values":[0,1,2,3,4,5,6,7,8],"title":null}}}}
]},
{"width":177,"height":178,"layer":[
{"data":{"name":"b3"},"mark":{"type":"point","shape":"circle","filled":true,"fill":"white","stroke":"#1a1a1a","strokeWidth":0.7,"size":60,"opacity":1},"encoding":{"x":{"field":"x","type":"quantitative","scale":{"domain":[-4,4],"nice":false,"zero":false},"axis":{"values":[-4,-3,-2,-1,0,1,2,3,4],"title":"CRM estimate of θ"}},"y":{"field":"y","type":"quantitative","scale":{"domain":[0,6],"nice":false,"zero":false},"axis":{"values":[0,1,2,3,4,5,6],"title":null}}}},
{"data":{"name":"b3c"},"mark":{"type":"line","color":"#e5262b","strokeWidth":1.8,"interpolate":"monotone"},"encoding":{"x":{"field":"x","type":"quantitative","scale":{"domain":[-4,4],"nice":false,"zero":false},"axis":{"values":[-4,-3,-2,-1,0,1,2,3,4],"title":"CRM estimate of θ"}},"y":{"field":"y","type":"quantitative","scale":{"domain":[0,6],"nice":false,"zero":false},"axis":{"values":[0,1,2,3,4,5,6],"title":null}}}}
]},
{"width":177,"height":178,"layer":[
{"data":{"name":"c1"},"mark":{"type":"point","shape":"circle","filled":true,"fill":"white","stroke":"#1a1a1a","strokeWidth":0.7,"size":60,"opacity":1},"encoding":{"x":{"field":"x","type":"quantitative","scale":{"domain":[-4,4],"nice":false,"zero":false},"axis":{"values":[-4,-3,-2,-1,0,1,2,3,4],"title":"NO-GRM estimate of θ"}},"y":{"field":"y","type":"quantitative","scale":{"domain":[0,48],"nice":false,"zero":false},"axis":{"values":[0,6,12,18,24,30,36,42,48],"title":"Likert score"}}}},
{"data":{"name":"c1c"},"mark":{"type":"line","color":"#e5262b","strokeWidth":1.8,"interpolate":"monotone"},"encoding":{"x":{"field":"x","type":"quantitative","scale":{"domain":[-4,4],"nice":false,"zero":false},"axis":{"values":[-4,-3,-2,-1,0,1,2,3,4],"title":"NO-GRM estimate of θ"}},"y":{"field":"y","type":"quantitative","scale":{"domain":[0,48],"nice":false,"zero":false},"axis":{"values":[0,6,12,18,24,30,36,42,48],"title":"Likert score"}}}},
{"data":{"values":[{}]},"mark":{"type":"text","font":"Liberation Sans","fontWeight":"bold","fontSize":18,"align":"center","baseline":"middle","color":"#1a1a1a"},"encoding":{"x":{"datum":-5.88,"type":"quantitative","scale":{"domain":[-4,4],"nice":false,"zero":false},"axis":{"values":[-4,-3,-2,-1,0,1,2,3,4],"title":"NO-GRM estimate of θ"}},"y":{"datum":46.25,"type":"quantitative","scale":{"domain":[0,48],"nice":false,"zero":false},"axis":{"values":[0,6,12,18,24,30,36,42,48],"title":"Likert score"}},"text":{"value":"C"}}}
]},
{"width":177,"height":178,"layer":[
{"data":{"name":"c2"},"mark":{"type":"point","shape":"circle","filled":true,"fill":"white","stroke":"#1a1a1a","strokeWidth":0.7,"size":60,"opacity":1},"encoding":{"x":{"field":"x","type":"quantitative","scale":{"domain":[-4,4],"nice":false,"zero":false},"axis":{"values":[-4,-3,-2,-1,0,1,2,3,4],"title":"NO-GRM estimate of θ"}},"y":{"field":"y","type":"quantitative","scale":{"domain":[0,32],"nice":false,"zero":false},"axis":{"values":[0,4,8,12,16,20,24,28,32],"title":null}}}},
{"data":{"name":"c2c"},"mark":{"type":"line","color":"#e5262b","strokeWidth":1.8,"interpolate":"monotone"},"encoding":{"x":{"field":"x","type":"quantitative","scale":{"domain":[-4,4],"nice":false,"zero":false},"axis":{"values":[-4,-3,-2,-1,0,1,2,3,4],"title":"NO-GRM estimate of θ"}},"y":{"field":"y","type":"quantitative","scale":{"domain":[0,32],"nice":false,"zero":false},"axis":{"values":[0,4,8,12,16,20,24,28,32],"title":null}}}}
]},
{"width":177,"height":178,"layer":[
{"data":{"name":"c3"},"mark":{"type":"point","shape":"circle","filled":true,"fill":"white","stroke":"#1a1a1a","strokeWidth":0.7,"size":60,"opacity":1},"encoding":{"x":{"field":"x","type":"quantitative","scale":{"domain":[-4,4],"nice":false,"zero":false},"axis":{"values":[-4,-3,-2,-1,0,1,2,3,4],"title":"NO-GRM estimate of θ"}},"y":{"field":"y","type":"quantitative","scale":{"domain":[0,24],"nice":false,"zero":false},"axis":{"values":[0,3,6,9,12,15,18,21,24],"title":null}}}},
{"data":{"name":"c3c"},"mark":{"type":"line","color":"#e5262b","strokeWidth":1.8,"interpolate":"monotone"},"encoding":{"x":{"field":"x","type":"quantitative","scale":{"domain":[-4,4],"nice":false,"zero":false},"axis":{"values":[-4,-3,-2,-1,0,1,2,3,4],"title":"NO-GRM estimate of θ"}},"y":{"field":"y","type":"quantitative","scale":{"domain":[0,24],"nice":false,"zero":false},"axis":{"values":[0,3,6,9,12,15,18,21,24],"title":null}}}}
]}
]
}
